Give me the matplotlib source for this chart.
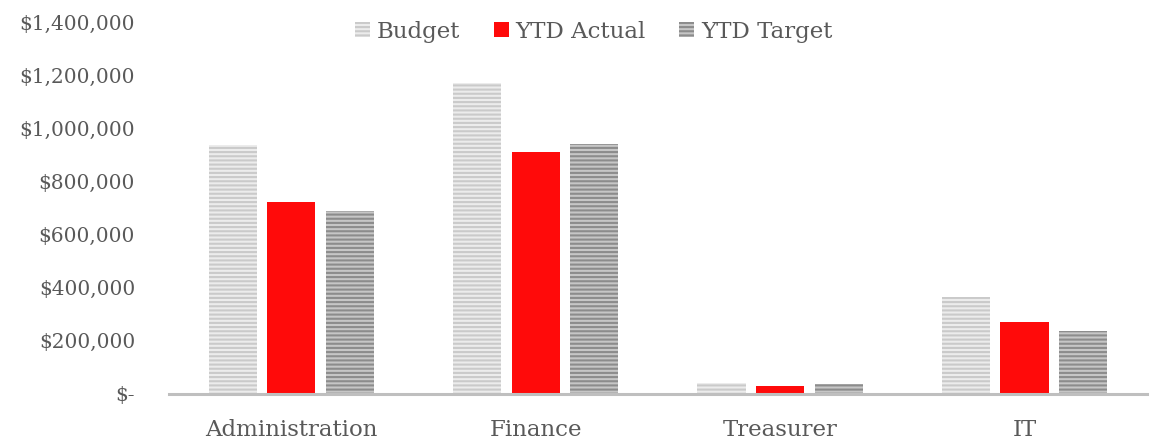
import matplotlib.pyplot as plt
import matplotlib.ticker as mticker
import numpy as np

departments = ["Administration", "Finance", "Treasurer", "IT"]
budget = [936000, 1171000, 38000, 362000]
ytd_actual = [721000, 911000, 27000, 269000]
ytd_target = [687000, 940000, 37000, 237000]

TEXT = "#595959"
plt.rcParams["font.family"] = ["DejaVu Serif"]
plt.rcParams["hatch.linewidth"] = 1.5

fig = plt.figure(figsize=(11.53, 4.43), dpi=100)
ax = fig.add_axes([0.1466, 0.1117, 0.848, 0.8386])

x = np.arange(len(departments))
w = 0.197
off = 0.24

ax.bar(x - off, budget, w, facecolor="#ececec", edgecolor="#cacaca",
       hatch="----", linewidth=0, label="Budget")
ax.bar(x, ytd_actual, w, color="#ff0a0a", linewidth=0, label="YTD Actual")
ax.bar(x + off, ytd_target, w, facecolor="#c6c6c6", edgecolor="#8c8c8c",
       hatch="----", linewidth=0, label="YTD Target")

ax.set_xlim(-0.5, 3.5)
ax.set_ylim(0, 1400000)
ax.set_yticks(np.arange(0, 1400001, 200000))


def money(v, pos):
    if v == 0:
        return "$-"
    return f"${v:,.0f}"


ax.yaxis.set_major_formatter(mticker.FuncFormatter(money))
ax.set_xticks(x)
ax.set_xticklabels(departments)
ax.tick_params(axis="both", length=0, colors=TEXT)
ax.tick_params(axis="y", labelsize=14.5, pad=24.5)
ax.tick_params(axis="x", labelsize=16.5, pad=18)

for side in ["top", "right", "left"]:
    ax.spines[side].set_visible(False)
ax.spines["bottom"].set_color("#bfbfbf")
ax.spines["bottom"].set_linewidth(2.2)
ax.spines["bottom"].set_clip_on(False)

leg = fig.legend(loc="center", bbox_to_anchor=(0.515, 0.928), ncol=3,
                 frameon=False, fontsize=16.5, handlelength=0.65,
                 handleheight=0.65, handletextpad=0.3, columnspacing=1.45)
for t in leg.get_texts():
    t.set_color(TEXT)

fig.savefig("out.png", dpi=100)
